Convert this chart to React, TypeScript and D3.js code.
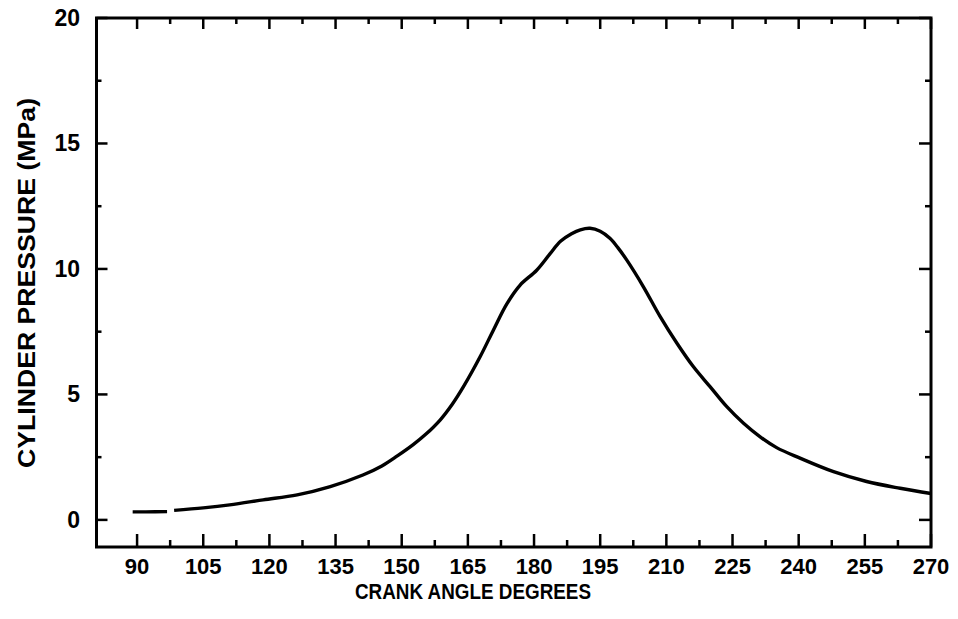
import React from "react";
import * as d3 from "d3";

const angles = [89, 92, 96.8, 97.6, 98.4, 105, 111, 118.6, 126.3, 133.8, 141.2, 145.5, 149, 152.6, 155.5, 158.7, 161.5, 164, 167.8, 170.8, 173.8, 176.8, 180.6, 183.6, 186, 188.5, 190.5, 192.7, 195, 197.2, 199, 201, 204.8, 208.6, 212.4, 216.1, 219.9, 223.7, 227.5, 231.2, 235, 240.3, 247.9, 255.4, 263, 270];
const pressures = [0.32, 0.32, 0.33, NaN, 0.38, 0.48, 0.6, 0.8, 1.0, 1.33, 1.79, 2.15, 2.55, 3.0, 3.42, 3.98, 4.62, 5.31, 6.51, 7.57, 8.6, 9.35, 9.95, 10.6, 11.1, 11.4, 11.56, 11.62, 11.5, 11.22, 10.85, 10.36, 9.29, 8.1, 7.04, 6.11, 5.31, 4.51, 3.85, 3.32, 2.88, 2.46, 1.92, 1.53, 1.26, 1.05];

const xTickLabels = [90, 105, 120, 135, 150, 165, 180, 195, 210, 225, 240, 255, 270];
const xMinorTicks = [97.5, 112.5, 127.5, 142.5, 157.5, 172.5, 187.5, 202.5, 217.5, 232.5, 247.5, 262.5];
const yTickLabels = [0, 5, 10, 15, 20];
const yMinorTicks = [2.5, 7.5, 12.5, 17.5];

const xTitle = "CRANK ANGLE DEGREES";
const yTitle = "CYLINDER PRESSURE (MPa)";

export default function App() {
  const W = 958, H = 619;
  const L = 96.5, R = 931, T = 18, B = 547;
  const x = d3.scaleLinear().domain([80.8, 270]).range([L, R]);
  const y = d3.scaleLinear().domain([-1.08, 20]).range([B, T]);
  const pts = angles.map((a, i) => [a, pressures[i]] as [number, number]);
  const line = d3
    .line<[number, number]>()
    .defined((d) => !isNaN(d[1]))
    .x((d) => x(d[0]))
    .y((d) => y(d[1]))
    .curve(d3.curveCatmullRom.alpha(0.5));
  const font = "'Liberation Sans', Arial, Helvetica, sans-serif";
  const stroke = "#000";
  return (
    <svg
      width={W}
      height={H}
      style={{ position: "absolute", left: 0, top: 0, background: "#fff" }}
      fontFamily={font}
      fontWeight="bold"
    >
      <rect x={0} y={0} width={W} height={H} fill="#fff" />
      {/* curve */}
      <path d={line(pts) || ""} fill="none" stroke={stroke} strokeWidth={3.4} strokeLinejoin="round" />
      {/* frame */}
      <rect x={L} y={T} width={R - L} height={B - T} fill="none" stroke={stroke} strokeWidth={3} />
      {/* x ticks bottom & top */}
      {xTickLabels.map((v) => (
        <g key={"xt" + v}>
          <line x1={x(v)} x2={x(v)} y1={B} y2={B - 13} stroke={stroke} strokeWidth={2.5} />
          <line x1={x(v)} x2={x(v)} y1={T} y2={T + 11} stroke={stroke} strokeWidth={2.5} />
          <text x={x(v)} y={574} textAnchor="middle" fontSize={22} fill="#000">
            {v}
          </text>
        </g>
      ))}
      {xMinorTicks.map((v) => (
        <g key={"xm" + v}>
          <line x1={x(v)} x2={x(v)} y1={B} y2={B - 7} stroke={stroke} strokeWidth={2.5} />
          <line x1={x(v)} x2={x(v)} y1={T} y2={T + 6} stroke={stroke} strokeWidth={2.5} />
        </g>
      ))}
      {/* y ticks left & right */}
      {yTickLabels.map((v) => (
        <g key={"yt" + v}>
          <line x1={L} x2={L + 11} y1={y(v)} y2={y(v)} stroke={stroke} strokeWidth={2.5} />
          <line x1={R} x2={R - 12} y1={y(v)} y2={y(v)} stroke={stroke} strokeWidth={2.5} />
          <text x={80} y={y(v) + 8} textAnchor="end" fontSize={23} fill="#000">
            {v}
          </text>
        </g>
      ))}
      {yMinorTicks.map((v) => (
        <g key={"ym" + v}>
          <line x1={L} x2={L + 5} y1={y(v)} y2={y(v)} stroke={stroke} strokeWidth={2.5} />
          <line x1={R} x2={R - 6} y1={y(v)} y2={y(v)} stroke={stroke} strokeWidth={2.5} />
        </g>
      ))}
      {/* titles */}
      <text
        x={473}
        y={599}
        textAnchor="middle"
        fontSize={22}
        textLength={236}
        lengthAdjust="spacingAndGlyphs"
        fill="#000"
      >
        {xTitle}
      </text>
      <text
        transform={`translate(35, 283) rotate(-90)`}
        textAnchor="middle"
        fontSize={23}
        textLength={370}
        lengthAdjust="spacingAndGlyphs"
        fill="#000"
      >
        {yTitle}
      </text>
    </svg>
  );
}
